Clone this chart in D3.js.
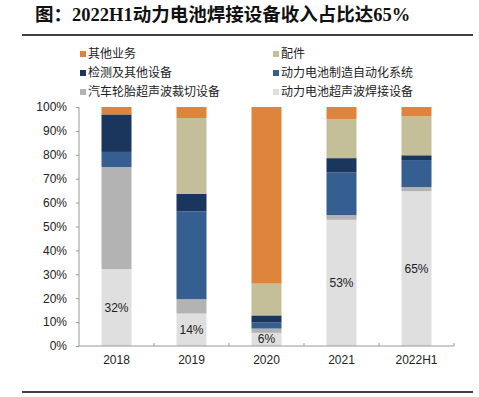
<!DOCTYPE html>
<html>
<head>
<meta charset="utf-8">
<script src="https://cdn.jsdelivr.net/npm/d3@7"></script>
<style>
  html, body { margin: 0; padding: 0; background: #fff; }
</style>
</head>
<body>
<div id="chart"></div>
<script>
// Chart data (shares, %)
const years = ["2018", "2019", "2020", "2021", "2022H1"];
const seriesNames = ["动力电池超声波焊接设备", "汽车轮胎超声波裁切设备", "动力电池制造自动化系统",
                     "检测及其他设备", "配件", "其他业务"];
const weldShare   = [32.2, 13.6, 5.5, 52.8, 64.8];
const tireShare   = [42.7, 6.0, 1.8, 2.0, 1.7];
const autoShare   = [6.3, 36.7, 2.5, 17.8, 11.3];
const testShare   = [15.7, 7.3, 3.0, 6.0, 2.0];
const partsShare  = [0.0, 31.8, 13.3, 16.4, 16.3];
const otherShare  = [3.1, 4.6, 73.9, 5.0, 3.9];
const weldLabels  = ["32%", "14%", "6%", "53%", "65%"];
const yTicks = [0, 10, 20, 30, 40, 50, 60, 70, 80, 90, 100];

const colors = ["#dfdfdf", "#b3b3b3", "#365f91", "#1b365c", "#c5bf99", "#de843c"];

const width = 479, height = 397;
const svg = d3.select("#chart").append("svg")
    .attr("width", width)
    .attr("height", height);

// Title and frame lines
svg.append("text")
    .attr("x", 35)
    .attr("y", 21)
    .attr("font-family", "'Liberation Serif', 'Noto Sans CJK SC', serif")
    .attr("font-weight", "bold")
    .attr("font-size", "18.5px")
    .attr("fill", "#111")
    .text("图：2022H1动力电池焊接设备收入占比达65%");

svg.append("line").attr("x1", 22).attr("x2", 473).attr("y1", 35).attr("y2", 35)
    .attr("stroke", "#000").attr("stroke-width", 1.5);
svg.append("line").attr("x1", 22).attr("x2", 473).attr("y1", 392).attr("y2", 392)
    .attr("stroke", "#000").attr("stroke-width", 1.5);

// Legend: 3 rows x 2 columns, top-down in series order reversed
const legendOrder = [5, 4, 3, 2, 1, 0];
const legend = svg.append("g");
legendOrder.forEach((s, i) => {
    const col = i % 2, row = Math.floor(i / 2);
    const gx = col === 0 ? 80 : 273;
    const gy = 54 + row * 19;
    legend.append("rect")
        .attr("x", gx).attr("y", gy - 3)
        .attr("width", 6).attr("height", 6)
        .attr("fill", colors[s]);
    legend.append("text")
        .attr("x", gx + 8).attr("y", gy + 4)
        .attr("font-family", "'Noto Sans CJK SC', sans-serif")
        .attr("font-size", "12px")
        .attr("fill", "#222")
        .text(seriesNames[s]);
});

// Scales
const x = d3.scaleBand().domain(years).range([79, 454]).paddingInner(0.6).paddingOuter(0.3);
const y = d3.scaleLinear().domain([0, 100]).range([346, 107]);

// Build the stack from the named arrays
const table = years.map((yr, i) => ({
    year: yr,
    s0: weldShare[i], s1: tireShare[i], s2: autoShare[i],
    s3: testShare[i], s4: partsShare[i], s5: otherShare[i]
}));
const stack = d3.stack().keys(["s0", "s1", "s2", "s3", "s4", "s5"])(table);

svg.append("g").selectAll("g")
    .data(stack)
    .enter().append("g")
    .attr("fill", (d, i) => colors[i])
    .selectAll("rect")
    .data(d => d)
    .enter().append("rect")
    .attr("x", d => x(d.data.year))
    .attr("width", x.bandwidth())
    .attr("y", d => y(d[1]))
    .attr("height", d => y(d[0]) - y(d[1]));

// Labels in the welding segment
svg.append("g").selectAll("text")
    .data(years)
    .enter().append("text")
    .attr("x", d => x(d) + x.bandwidth() / 2)
    .attr("y", (d, i) => y(weldShare[i] / 2) + 4)
    .attr("text-anchor", "middle")
    .attr("font-family", "'Liberation Sans', Arial, sans-serif")
    .attr("font-size", "12px")
    .attr("fill", "#222")
    .text((d, i) => weldLabels[i]);

// Y axis
const yAxis = svg.append("g")
    .attr("transform", "translate(79,0)")
    .call(d3.axisLeft(y).tickValues(yTicks).tickFormat(d => d + "%").tickSize(3).tickPadding(9));
yAxis.select(".domain").attr("stroke", "#999").attr("d", "M0,107V346");
yAxis.selectAll(".tick line").attr("stroke", "#999");
yAxis.selectAll("text")
    .attr("font-family", "'Liberation Sans', Arial, sans-serif")
    .attr("font-size", "12px")
    .attr("fill", "#222");

// X axis with ticks between categories
const xAxis = svg.append("g")
    .attr("transform", "translate(0,346)")
    .call(d3.axisBottom(x).tickSize(0).tickPadding(9));
xAxis.select(".domain").attr("stroke", "#999").attr("d", "M79,0H454");
xAxis.selectAll("text")
    .attr("font-family", "'Liberation Sans', Arial, sans-serif")
    .attr("font-size", "12px")
    .attr("fill", "#222");
const step = x.step();
xAxis.selectAll(".sep")
    .data(d3.range(1, years.length + 1))
    .enter().append("line")
    .attr("x1", d => 79 + d * step)
    .attr("x2", d => 79 + d * step)
    .attr("y1", 0).attr("y2", -3)
    .attr("stroke", "#999");
</script>
</body>
</html>
